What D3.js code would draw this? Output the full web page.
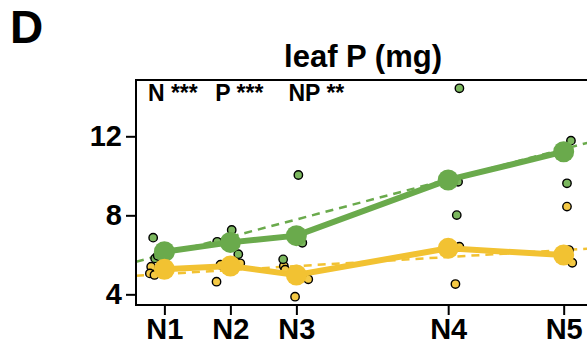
<!DOCTYPE html>
<html>
<head>
<meta charset="utf-8">
<script src="https://cdn.jsdelivr.net/npm/d3@7"></script>
<style>
  body { margin: 0; background: #fff; }
  svg { display: block; font-family: "Liberation Sans", Arial, sans-serif; font-weight: bold; }
</style>
</head>
<body>
<svg id="chart" width="587" height="345"></svg>
<script>
// N levels and their positions on the dose axis
const nLabels = ["N1", "N2", "N3", "N4", "N5"];
const nDose = [0, 1, 2, 4.3, 6.05];
const yTicks = [4, 8, 12];

// group means (solid lines)
const greenMean = [6.16, 6.63, 6.97, 9.79, 11.22];
const yellowMean = [5.27, 5.43, 4.98, 6.33, 5.99];

// single observations [dose, value]
const greenObs = [
  [-0.17, 6.87], [-0.14, 5.82], [-0.1, 5.95],
  [1.02, 7.26], [1.12, 6.03], [0.8, 6.66], [0.95, 6.55],
  [2.03, 10.04], [1.8, 5.77], [2.09, 6.61],
  [4.47, 14.43], [4.43, 8.01], [4.45, 9.7],
  [6.16, 11.78], [6.1, 9.62], [6.12, 11.3]
];
const yellowObs = [
  [-0.2, 5.4], [-0.22, 5.06], [-0.15, 4.98],
  [0.79, 4.64], [1.15, 5.57], [0.85, 5.5],
  [1.81, 5.43], [1.98, 3.88], [2.18, 4.76], [1.83, 5.25],
  [4.41, 4.52], [4.47, 6.41],
  [6.1, 8.44], [6.18, 5.6], [6.13, 6.24]
];

// linear fits (dashed) : [intercept, slope]
const greenFit = [6.03, 0.88];
const yellowFit = [5.03, 0.2];

const annotations = ["N ***", "P ***", "NP **"];
const annotationDose = [-0.25, 0.77, 1.88];

const green = "#6aaa4c", greenLight = "#7bb75e";
const yellow = "#f2c232", yellowLight = "#f4c945";

const svg = d3.select("#chart");

const x = d3.scaleLinear().domain([-0.43, 6.7]).range([136, 136 + 7.13 * 66]);
const y = d3.scaleLinear().domain([3.46, 14.85]).range([305, 80]);

svg.append("text")
  .attr("x", 10).attr("y", 43)
  .style("font-size", "46px")
  .text("D");

svg.append("text")
  .attr("x", 363).attr("y", 67)
  .attr("text-anchor", "middle")
  .style("font-size", "31px")
  .text("leaf P (mg)");

svg.append("defs").append("clipPath").attr("id", "plot-clip")
  .append("rect")
    .attr("x", x.range()[0]).attr("y", y.range()[1])
    .attr("width", x.range()[1] - x.range()[0])
    .attr("height", y.range()[0] - y.range()[1]);

const plot = svg.append("g").attr("clip-path", "url(#plot-clip)");

// dashed fits
[[greenFit, green], [yellowFit, yellow]].forEach(([fit, col]) => {
  const xs = x.domain();
  plot.append("line")
    .attr("x1", x(xs[0])).attr("y1", y(fit[0] + fit[1] * xs[0]))
    .attr("x2", x(xs[1])).attr("y2", y(fit[0] + fit[1] * xs[1]))
    .attr("stroke", col)
    .attr("stroke-width", 2.5)
    .attr("stroke-dasharray", "8,6");
});

// observations
[[yellowObs, yellowLight], [greenObs, greenLight]].forEach(([obs, col]) => {
  plot.selectAll(null)
    .data(obs)
    .enter().append("circle")
      .attr("cx", d => x(d[0]))
      .attr("cy", d => y(d[1]))
      .attr("r", 4.2)
      .attr("fill", col)
      .attr("stroke", "#000")
      .attr("stroke-width", 1.4);
});

// means
const line = d3.line().x((d, i) => x(nDose[i])).y(d => y(d));
[[greenMean, green], [yellowMean, yellow]].forEach(([means, col]) => {
  plot.append("path")
    .attr("d", line(means))
    .attr("fill", "none")
    .attr("stroke", col)
    .attr("stroke-width", 6);
  plot.selectAll(null)
    .data(means)
    .enter().append("circle")
      .attr("cx", (d, i) => x(nDose[i]))
      .attr("cy", d => y(d))
      .attr("r", 10.5)
      .attr("fill", col);
});

// box
svg.append("path")
  .attr("d", `M${x.range()[1]},${y.range()[1]}H${x.range()[0]}V${y.range()[0]}H${x.range()[1]}`)
  .attr("fill", "none")
  .attr("stroke", "#000")
  .attr("stroke-width", 2);

// axes
const yAxis = svg.append("g")
  .attr("transform", `translate(${x.range()[0]},0)`)
  .call(d3.axisLeft(y).tickValues(yTicks).tickSize(10).tickPadding(4));
const xAxis = svg.append("g")
  .attr("transform", `translate(0,${y.range()[0]})`)
  .call(d3.axisBottom(x).tickValues(nDose).tickFormat((d, i) => nLabels[i]).tickSize(10).tickPadding(3));

[yAxis, xAxis].forEach(ax => {
  ax.select(".domain").remove();
  ax.selectAll("line").attr("stroke", "#000").attr("stroke-width", 2);
  ax.selectAll("text")
    .attr("fill", "#000")
    .style("font-family", "'Liberation Sans', Arial, sans-serif")
    .style("font-weight", "bold")
    .style("font-size", "29px");
});

svg.selectAll(".annotation")
  .data(annotations)
  .enter().append("text")
    .attr("class", "annotation")
    .attr("x", (d, i) => x(annotationDose[i]))
    .attr("y", 101)
    .style("font-size", "23px")
    .text(d => d);
</script>
</body>
</html>
